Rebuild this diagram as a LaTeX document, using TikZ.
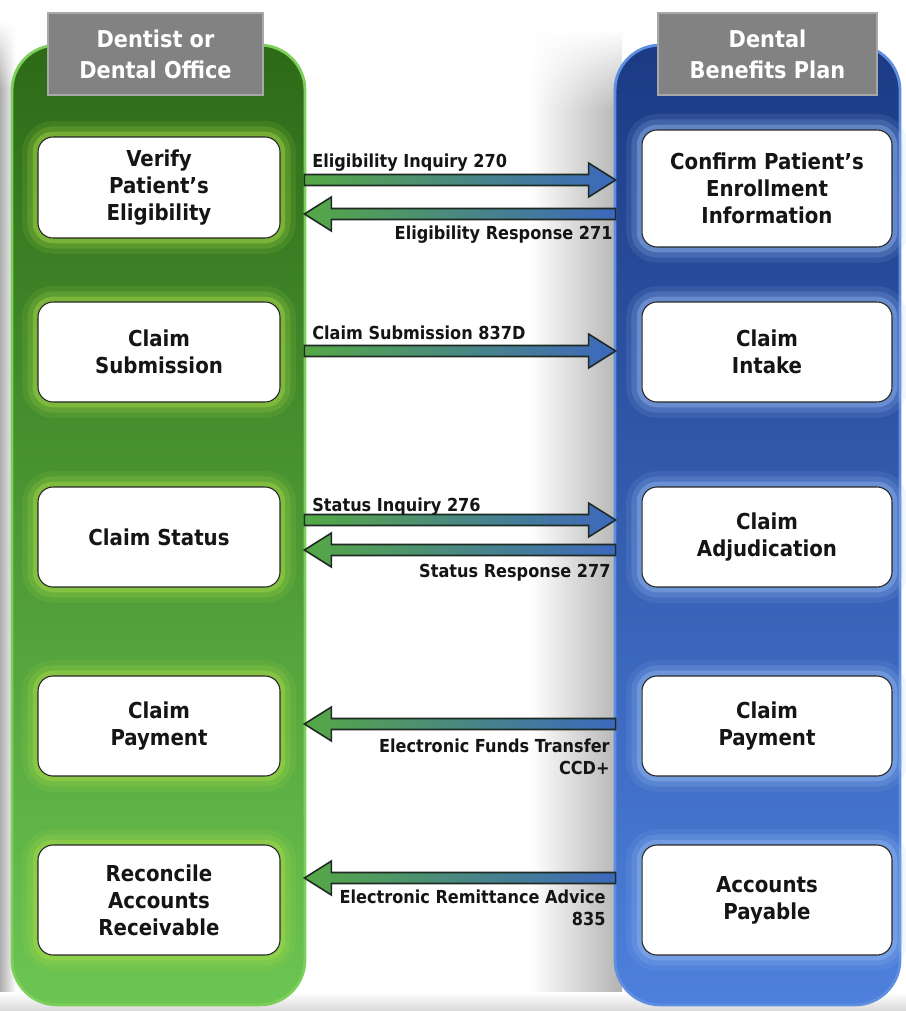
\documentclass[tikz,border=0pt]{standalone}
\usepackage{fontspec}
\setmainfont{DejaVu Sans Condensed}
\usetikzlibrary{calc,fadings}
\definecolor{gtop}{HTML}{2D6A17}
\definecolor{gmid}{HTML}{4E9C2F}
\definecolor{gbot}{HTML}{6CC552}
\definecolor{gedge}{HTML}{7CD05A}
\definecolor{btop}{HTML}{1C3A84}
\definecolor{bmid}{HTML}{3364BF}
\definecolor{bbot}{HTML}{4D80DC}
\definecolor{bedge}{HTML}{5E8EE0}
\definecolor{ggl}{HTML}{A9DC48}
\definecolor{bgl}{HTML}{95B9F0}
\definecolor{agreen}{HTML}{55A845}
\definecolor{ablue}{HTML}{3D68BE}
\definecolor{aline}{HTML}{1F2A22}
\definecolor{tabmid}{HTML}{828282}
\definecolor{tabedge}{HTML}{A8A8A8}
\definecolor{txt}{HTML}{151515}
\newcommand\rflow[2]{\path[flowarrow] ($(#1)+(0,-5.5)$) -- ($(#2)+(-27,-5.5)$) -- ($(#2)+(-27,-17)$) -- (#2) -- ($(#2)+(-27,17)$) -- ($(#2)+(-27,5.5)$) -- ($(#1)+(0,5.5)$) -- cycle;}
\newcommand\lflow[2]{\path[flowarrow] ($(#1)+(0,-5.5)$) -- ($(#2)+(27,-5.5)$) -- ($(#2)+(27,-17)$) -- (#2) -- ($(#2)+(27,17)$) -- ($(#2)+(27,5.5)$) -- ($(#1)+(0,5.5)$) -- cycle;}
\begin{document}
\begin{tikzpicture}[x=0.02cm,y=-0.02cm,
  column/.style={rectangle, rounded corners=0.9cm, inner sep=0pt, line width=1.6pt},
  tab/.style={rectangle, inner sep=0pt, minimum width=4.3cm, minimum height=1.64cm,
    fill=tabmid, draw=tabedge, line width=1.3pt,
    text=white, align=center, font=\bfseries\fontsize{13.2}{17.5}\selectfont},
  boxbase/.style={rectangle, rounded corners=0.3cm, fill=white, draw=black!85, line width=0.6pt,
    text=txt, align=center, font=\bfseries\fontsize{12.5}{15.4}\selectfont, inner sep=0pt},
  lbox/.style={boxbase, minimum width=4.84cm,
    preaction={draw=ggl, line width=18pt, opacity=0.12},
    preaction={draw=ggl, line width=12pt, opacity=0.2},
    preaction={draw=ggl, line width=6pt, opacity=0.4}},
  rbox/.style={boxbase, minimum width=5.0cm,
    preaction={draw=bgl, line width=18pt, opacity=0.12},
    preaction={draw=bgl, line width=12pt, opacity=0.2},
    preaction={draw=bgl, line width=6pt, opacity=0.4}},
  flowarrow/.style={left color=agreen, right color=ablue, draw=aline, line width=0.9pt, line join=miter},
  flowlabel/.style={text=txt, font=\bfseries\fontsize{10.2}{12.4}\selectfont, inner sep=0pt, align=right}]
\useasboundingbox (0,0) rectangle (906,1011);
\fill[white] (0,0) rectangle (906,1011);
% background shadows
\shade[left color=black!32, right color=white] (0,90) rectangle (16,1011);
\shade[left color=black!32, right color=white, path fading=north] (0,20) rectangle (16,91);
\shade[left color=white, right color=black!30] (530,110) rectangle (622,1011);
\shade[left color=white, right color=black!30, path fading=north] (530,30) rectangle (622,111);
\shade[top color=white, bottom color=black!15] (0,992) rectangle (906,1011);
% columns
\node[column, minimum width=5.86cm, minimum height=19.2cm, top color=gtop, middle color=gmid, bottom color=gbot, draw=gedge] (gcol) at (158.5,525) {};
\node[column, minimum width=5.7cm, minimum height=19.2cm, top color=btop, middle color=bmid, bottom color=bbot, draw=bedge] (bcol) at (757.5,525) {};
% tabs
\node[tab] (gtab) at (155.5,54) {Dentist or\\Dental Office};
\node[tab, minimum width=4.38cm] (btab) at (767.5,54) {Dental\\Benefits Plan};
% left boxes
\node[lbox, minimum height=2.02cm] (v1) at (159,187.5) {Verify\\Patient’s\\Eligibility};
\node[lbox, minimum height=2.0cm] (v2) at (159,352) {Claim\\Submission};
\node[lbox, minimum height=2.0cm] (v3) at (159,537) {Claim Status};
\node[lbox, minimum height=2.0cm] (v4) at (159,726) {Claim\\Payment};
\node[lbox, minimum height=2.2cm] (v5) at (159,900) {Reconcile\\Accounts\\Receivable};
% right boxes
\node[rbox, minimum height=2.34cm] (p1) at (767,188.5) {Confirm Patient’s\\Enrollment\\Information};
\node[rbox, minimum height=2.0cm] (p2) at (767,352) {Claim\\Intake};
\node[rbox, minimum height=2.0cm] (p3) at (767,537) {Claim\\Adjudication};
\node[rbox, minimum height=2.0cm] (p4) at (767,726) {Claim\\Payment};
\node[rbox, minimum height=2.2cm] (p5) at (767,900) {Accounts\\Payable};
% arrow end points on the column edges
\coordinate (a1l) at ($(gcol.east |- v1.center)+(-2,-7.5)$);
\coordinate (a1r) at ($(bcol.west |- v1.center)+(2,-7.5)$);
\coordinate (a2l) at ($(gcol.east |- v1.center)+(-2,26.5)$);
\coordinate (a2r) at ($(bcol.west |- v1.center)+(2,26.5)$);
\coordinate (a3l) at ($(gcol.east |- v2.center)+(-2,-1)$);
\coordinate (a3r) at ($(bcol.west |- v2.center)+(2,-1)$);
\coordinate (a4l) at ($(gcol.east |- v3.center)+(-2,-17)$);
\coordinate (a4r) at ($(bcol.west |- v3.center)+(2,-17)$);
\coordinate (a5l) at ($(gcol.east |- v3.center)+(-2,13)$);
\coordinate (a5r) at ($(bcol.west |- v3.center)+(2,13)$);
\coordinate (a6l) at ($(gcol.east |- v4.center)+(-2,-2)$);
\coordinate (a6r) at ($(bcol.west |- v4.center)+(2,-2)$);
\coordinate (a7l) at ($(gcol.east |- v5.center)+(-2,-22)$);
\coordinate (a7r) at ($(bcol.west |- v5.center)+(2,-22)$);
% arrows
\rflow{a1l}{a1r}
\lflow{a2r}{a2l}
\rflow{a3l}{a3r}
\rflow{a4l}{a4r}
\lflow{a5r}{a5l}
\lflow{a6r}{a6l}
\lflow{a7r}{a7l}
% labels
\node[flowlabel, anchor=base west] (l1) at (312,167) {Eligibility Inquiry 270};
\node[flowlabel, anchor=base east] (l2) at (613,239) {Eligibility Response 271};
\node[flowlabel, anchor=base west] (l3) at (312,339) {Claim Submission 837D};
\node[flowlabel, anchor=base west] (l4) at (312,511) {Status Inquiry 276};
\node[flowlabel, anchor=base east] (l5) at (611,577) {Status Response 277};
\node[flowlabel, anchor=north east] (l6) at (610,739) {Electronic Funds Transfer\\CCD+};
\node[flowlabel, anchor=north east] (l7) at (606,890) {Electronic Remittance Advice\\835};
\end{tikzpicture}
\end{document}
